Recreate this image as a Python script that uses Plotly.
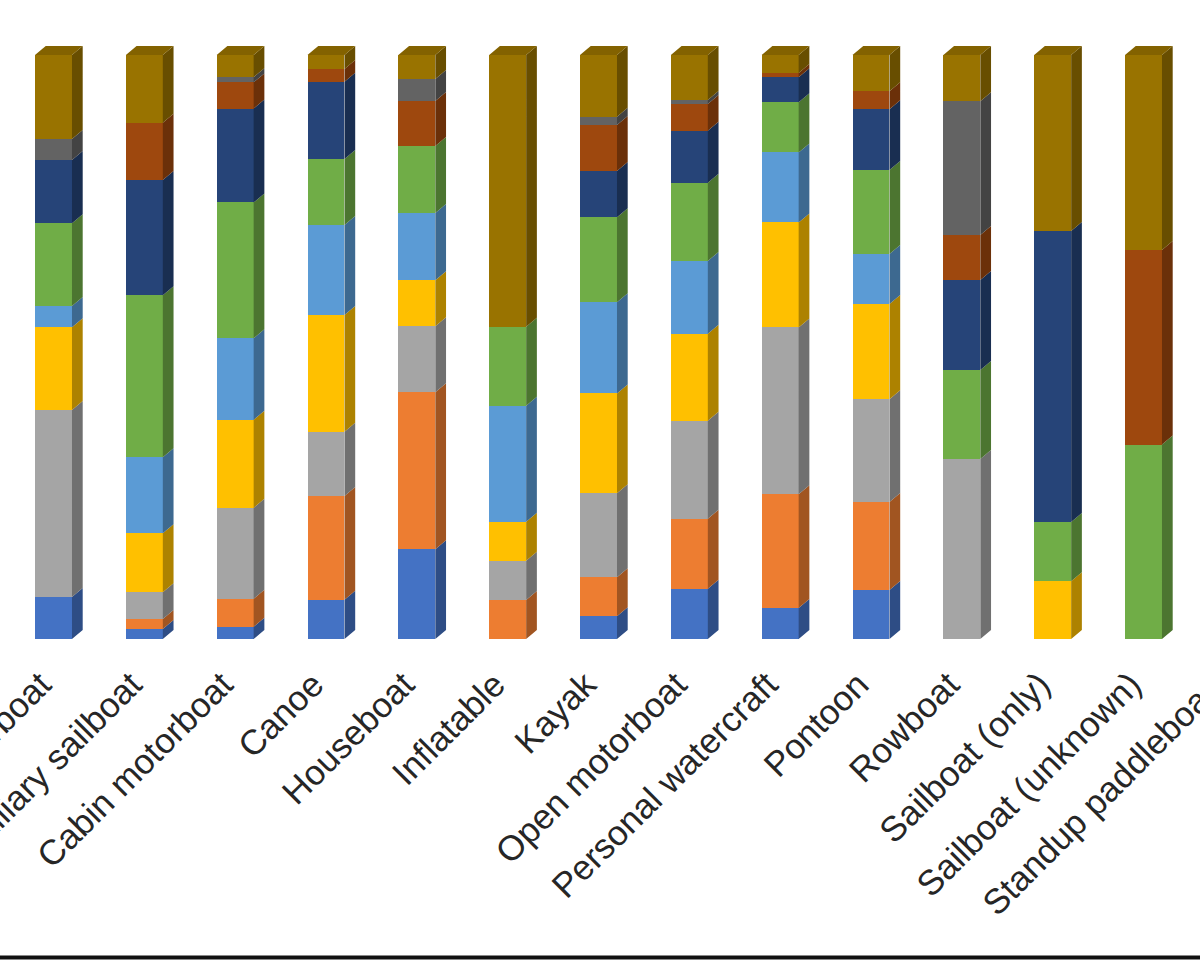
import numpy as np
import plotly.graph_objects as go

# ---------------- data (percent of each vessel type) ----------------
categories = ["Airboat", "Auxiliary sailboat", "Cabin motorboat", "Canoe", "Houseboat",
              "Inflatable", "Kayak", "Open motorboat", "Personal watercraft", "Pontoon",
              "Rowboat", "Sailboat (only)", "Sailboat (unknown)"]
cut_off_category = "Standup paddleboard"

series_names = ["Series 1", "Series 2", "Series 3", "Series 4", "Series 5",
                "Series 6", "Series 7", "Series 8", "Series 9", "Series 10"]

s1 = [7.2, 1.7, 2.1, 6.7, 15.4, 0, 3.9, 8.6, 5.3, 8.4, 0, 0, 0]
s2 = [0, 1.7, 4.8, 17.8, 26.9, 6.7, 6.7, 12.0, 19.5, 15.1, 0, 0, 0]
s3 = [32.0, 4.6, 15.6, 11.0, 11.3, 6.7, 14.4, 16.8, 28.6, 17.6, 30.8, 0, 0]
s4 = [14.2, 10.1, 15.1, 20.0, 7.9, 6.7, 17.1, 14.9, 18.0, 16.3, 0, 9.9, 0]
s5 = [3.6, 13.0, 14.0, 15.4, 11.5, 19.9, 15.6, 12.5, 12.0, 8.6, 0, 0, 0]
s6 = [14.2, 27.7, 23.3, 11.3, 11.5, 13.5, 14.6, 13.4, 8.6, 14.4, 15.2, 10.1, 33.3]
s7 = [10.8, 19.7, 16.1, 13.2, 0, 0, 7.9, 8.9, 4.3, 10.4, 15.4, 49.8, 0]
s8 = [0, 9.8, 4.5, 2.2, 7.7, 0, 7.9, 4.6, 0.7, 3.1, 7.7, 0, 33.3]
s9 = [3.6, 0, 0.9, 0, 3.8, 0, 1.4, 0.7, 0, 0, 22.9, 0, 0]
s10 = [14.4, 11.6, 3.8, 2.4, 4.1, 46.6, 10.6, 7.7, 3.1, 6.2, 7.9, 30.1, 33.4]

series_values = [s1, s2, s3, s4, s5, s6, s7, s8, s9, s10]
colors = ["#4472C4", "#ED7D31", "#A5A5A5", "#FFC000", "#5B9BD5",
          "#70AD47", "#264478", "#9E480E", "#636363", "#997300"]

# ---------------- geometry / style ----------------
BAR_W = 0.407       # front face width (category units)
DEPTH_X = 0.118     # 3D depth offset, x (category units)
LABEL_SHIFT = 0.14  # tick labels sit slightly left of bar centres
X_RANGE = [-0.589, 12.622]
PLOT_TOP_PX, PLOT_BOTTOM_PX, FIG_H, FIG_W = 30, 639, 960, 1200
Y_MAX = 100 * (PLOT_BOTTOM_PX - PLOT_TOP_PX) / 584.0
DEPTH_Y = 9 * Y_MAX / (PLOT_BOTTOM_PX - PLOT_TOP_PX)   # 9 px up
FONT = "Liberation Sans, Arial, sans-serif"
LABEL_SIZE = 35
LABEL_COLOR = "#262626"


def shade(hx, f):
    hx = hx.lstrip("#")
    r, g, b = (int(hx[i:i + 2], 16) for i in (0, 2, 4))
    return "rgb(%d,%d,%d)" % (int(r * f), int(g * f), int(b * f))


vals = np.array(series_values, dtype=float)
vals = vals / vals.sum(axis=0) * 100.0
cum = np.cumsum(vals, axis=0)
xs = np.arange(len(categories))

fig = go.Figure()

# front faces
for k, name in enumerate(series_names):
    fig.add_trace(go.Bar(
        x=xs, y=vals[k], name=name, width=BAR_W,
        marker=dict(color=colors[k], line=dict(width=0)),
        hoverinfo="skip", showlegend=False))

# side faces (one polygon per segment, grouped by series)
for k, name in enumerate(series_names):
    px_, py_ = [], []
    for i in range(len(categories)):
        if vals[k, i] <= 0:
            continue
        y0 = cum[k, i] - vals[k, i]
        y1 = cum[k, i]
        xr = xs[i] + BAR_W / 2
        px_ += [xr, xr + DEPTH_X, xr + DEPTH_X, xr, xr, None]
        py_ += [y0, y0 + DEPTH_Y, y1 + DEPTH_Y, y1, y0, None]
    fig.add_trace(go.Scatter(
        x=px_, y=py_, mode="lines", fill="toself",
        fillcolor=shade(colors[k], 0.68), line=dict(width=0, color=shade(colors[k], 0.68)),
        hoverinfo="skip", showlegend=False))

# top faces
for i in range(len(categories)):
    top_k = max(k for k in range(len(series_names)) if vals[k, i] > 0)
    xl, xr = xs[i] - BAR_W / 2, xs[i] + BAR_W / 2
    top = cum[-1, i]
    fig.add_trace(go.Scatter(
        x=[xl, xl + DEPTH_X, xr + DEPTH_X, xr, xl],
        y=[top, top + DEPTH_Y, top + DEPTH_Y, top, top],
        mode="lines", fill="toself",
        fillcolor=shade(colors[top_k], 0.86), line=dict(width=0, color=shade(colors[top_k], 0.86)),
        hoverinfo="skip", showlegend=False))

# label of the next (cut-off) category, positioned from the axis range
next_x_paper = (len(categories) - X_RANGE[0]) / (X_RANGE[1] - X_RANGE[0]) + 7.0 / FIG_W
label_y_paper = -(16) / (PLOT_BOTTOM_PX - PLOT_TOP_PX)
fig.add_annotation(
    text=cut_off_category, xref="paper", yref="paper",
    x=next_x_paper, y=label_y_paper, xanchor="right", yanchor="top",
    textangle=-45, showarrow=False,
    font=dict(family=FONT, size=LABEL_SIZE, color=LABEL_COLOR))

# bottom border line
line_y = -(957.5 - PLOT_BOTTOM_PX) / (PLOT_BOTTOM_PX - PLOT_TOP_PX)
fig.add_shape(type="line", xref="paper", yref="paper", x0=0, x1=1, y0=line_y, y1=line_y,
              line=dict(color="#111111", width=4))

fig.update_layout(
    width=FIG_W, height=FIG_H,
    margin=dict(l=0, r=0, t=PLOT_TOP_PX, b=FIG_H - PLOT_BOTTOM_PX, autoexpand=False),
    barmode="stack", bargap=0,
    paper_bgcolor="white", plot_bgcolor="white",
    showlegend=False,
    font=dict(family=FONT, size=LABEL_SIZE, color=LABEL_COLOR),
    xaxis=dict(range=X_RANGE, tickmode="array", tickvals=list(xs - LABEL_SHIFT),
               ticktext=categories,
               tickangle=-45, showgrid=False, zeroline=False, showline=False, ticks="",
               ticklabelstandoff=17, ticklabeloverflow="allow", automargin=False,
               tickfont=dict(family=FONT, size=LABEL_SIZE, color=LABEL_COLOR)),
    yaxis=dict(range=[0, Y_MAX], visible=False, showgrid=False, zeroline=False),
)

fig.write_html(
    "out.html",
    config={"displayModeBar": False},
    post_script="document.body.style.margin='0';document.body.style.overflow='hidden';")
